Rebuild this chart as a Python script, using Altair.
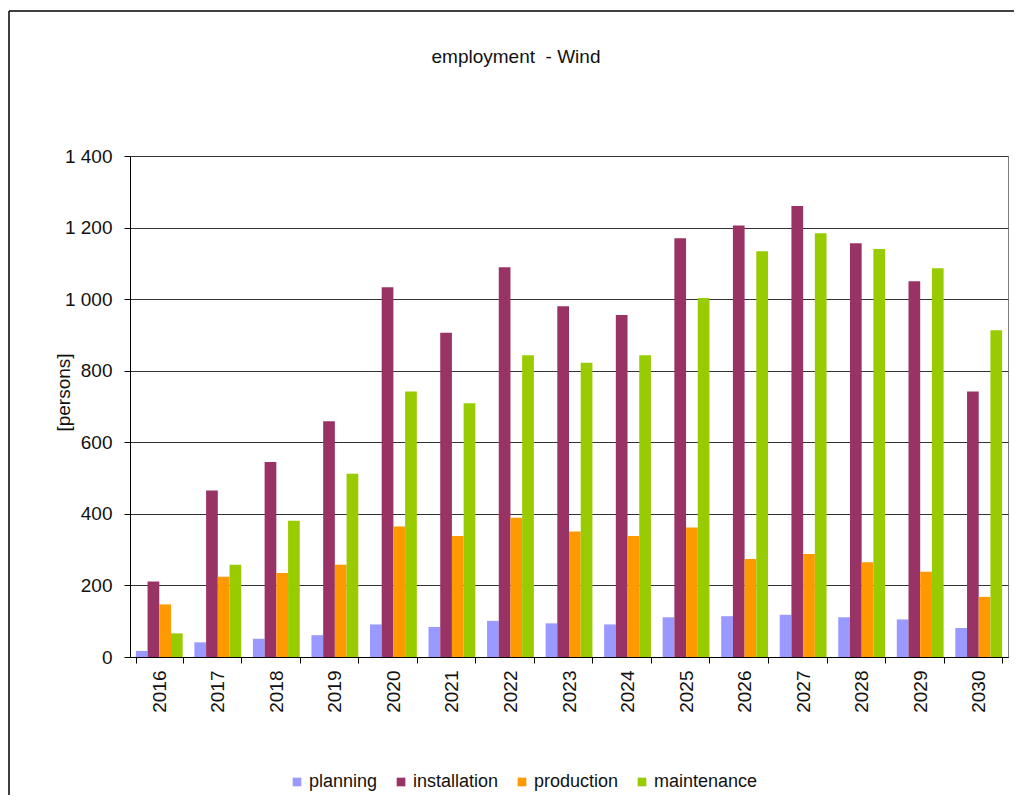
import altair as alt
import pandas as pd

years = [str(y) for y in range(2016, 2031)]
planning = [17, 41, 51, 61, 91, 84, 101, 94, 91, 111, 114, 118, 111, 105, 81]
installation = [211, 465, 545, 659, 1033, 906, 1089, 980, 956, 1170, 1206, 1260, 1156, 1050, 742]
production = [147, 224, 235, 258, 365, 338, 389, 351, 338, 362, 274, 288, 265, 238, 168]
maintenance = [66, 258, 381, 512, 742, 709, 843, 822, 843, 1003, 1134, 1184, 1140, 1086, 913]
series = ["planning", "installation", "production", "maintenance"]
colors = ["#9999FF", "#993366", "#FF9900", "#99CC00"]
y_ticks = [0, 200, 400, 600, 800, 1000, 1200, 1400]
chart_title = "employment\u00a0 - Wind"
y_title = "[persons]"

rows = []
for name, vals in zip(series, [planning, installation, production, maintenance]):
    for yr, v in zip(years, vals):
        rows.append({"year": yr, "series": name, "value": v})
df = pd.DataFrame(rows)

FONT = "Liberation Sans"
FS = 19
LFS = 18

bars = alt.Chart(df).mark_bar().encode(
    x=alt.X("year:N", sort=years,
            scale=alt.Scale(paddingInner=0.2, paddingOuter=0.1),
            axis=alt.Axis(title=None, labelAngle=270, labelFontSize=FS, labelFont=FONT,
                          labelColor="#111", labelPadding=7, tickBand="extent",
                          tickSize=6, tickColor="#000", domainColor="#000",
                          grid=False)),
    xOffset=alt.XOffset("series:N", sort=series, scale=alt.Scale(paddingInner=0, paddingOuter=0)),
    y=alt.Y("value:Q", scale=alt.Scale(domain=[0, 1400], nice=False),
            axis=alt.Axis(values=y_ticks, title=y_title, titleFont=FONT, titleFontSize=FS,
                          titleFontWeight="normal", titleColor="#111",
                          titleX=-67, titleY=236, titleAlign="center", titleBaseline="middle",
                          labelFont=FONT, labelFontSize=FS, labelColor="#111", labelPadding=12,
                          labelExpr="replace(format(datum.value, ',d'), ',', ' ')",
                          tickSize=6, tickColor="#000", domainColor="#000",
                          grid=True, gridColor="#333", gridWidth=1)),
    color=alt.Color("series:N", sort=series,
                    scale=alt.Scale(domain=series, range=colors),
                    legend=alt.Legend(orient="none", legendX=158, legendY=617,
                                      direction="horizontal", title=None,
                                      symbolType="square", symbolSize=75,
                                      symbolStrokeWidth=0, labelFont=FONT,
                                      labelFontSize=LFS, labelColor="#111",
                                      labelOffset=3, columnPadding=14, padding=0)),
)

title_df = pd.DataFrame({"t": [chart_title]})
title = alt.Chart(title_df).mark_text(font=FONT, fontSize=FS, color="#111",
                                      align="center", baseline="alphabetic").encode(
    text="t:N", x=alt.value(386), y=alt.value(-93))

frame_df = pd.DataFrame({"a": [0]})
frame_top = alt.Chart(frame_df).mark_rule(color="#000", strokeWidth=1.5).encode(
    x=alt.value(-121), x2=alt.value(884), y=alt.value(-145))
frame_left = alt.Chart(frame_df).mark_rule(color="#000", strokeWidth=1.5).encode(
    x=alt.value(-121), y=alt.value(-145), y2=alt.value(639))

chart = alt.layer(frame_top, frame_left, bars, title).properties(
    width=878, height=501,
    autosize=alt.AutoSizeParams(type="none"),
    padding={"left": 122, "top": 148, "right": 6, "bottom": 138},
).configure_view(stroke="#808080", strokeWidth=1)

chart.save("out.html", embed_options={"renderer": "svg", "actions": False})
